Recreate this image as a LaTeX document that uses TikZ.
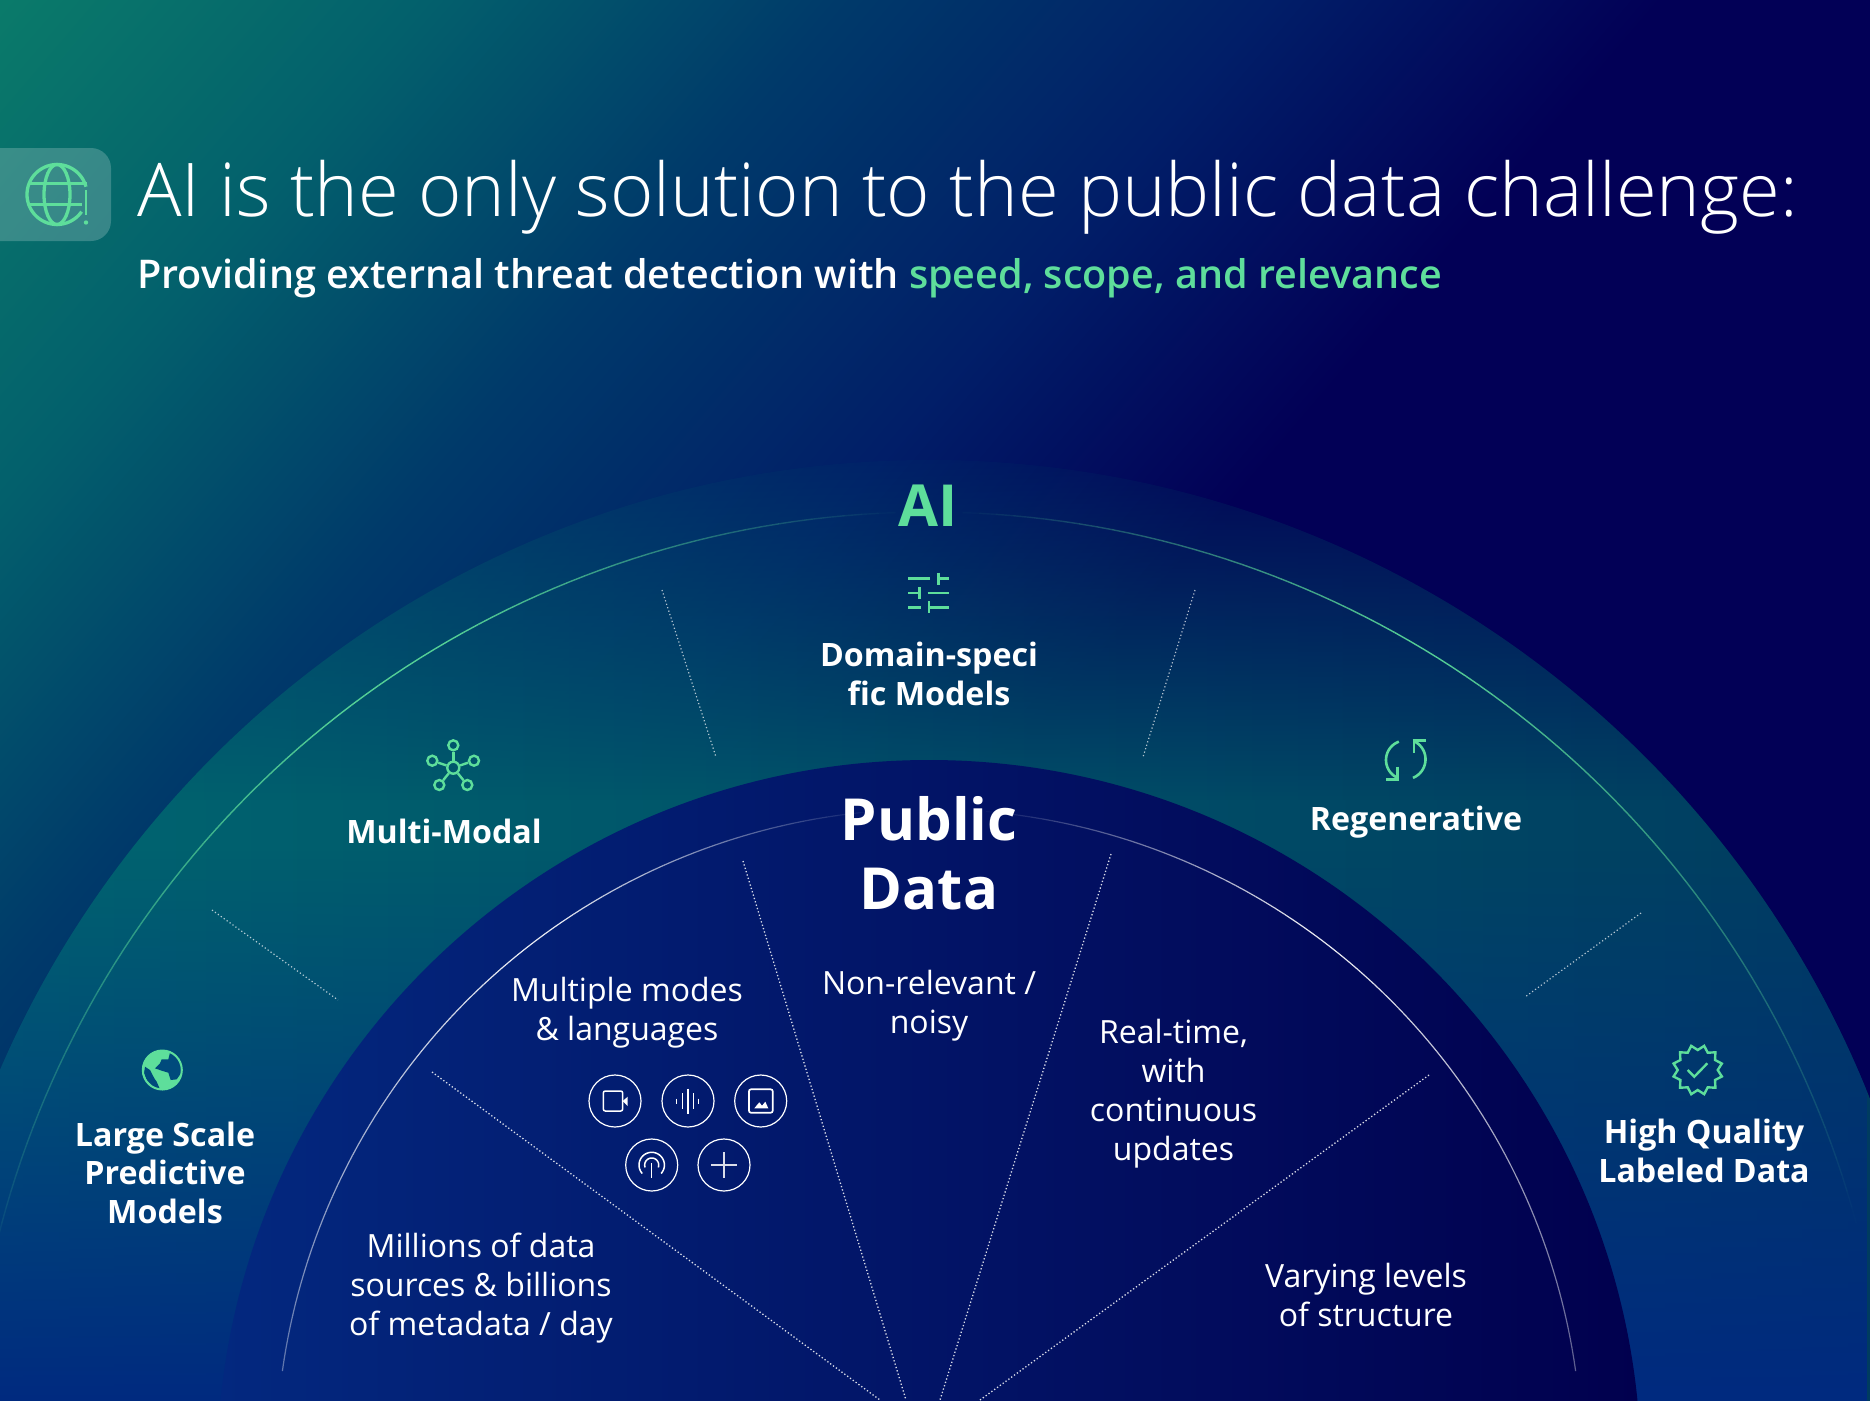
\documentclass[tikz,border=0pt]{standalone}
\usepackage{fontspec}
\setmainfont{Open Sans}
\newfontfamily\lightf{Open Sans Light}
\newfontfamily\semif{Open Sans Semibold}
\usetikzlibrary{shapes.geometric,fadings}
\definecolor{mint}{HTML}{5EDE9B}
\definecolor{bandL}{HTML}{006570}
\definecolor{bandM}{HTML}{005068}
\definecolor{bandR}{HTML}{003C60}
\definecolor{bandBlue}{HTML}{002A80}
\definecolor{innerL}{HTML}{03287F}
\definecolor{innerM}{HTML}{02177A}
\definecolor{innerR}{HTML}{01004E}
\definecolor{landdark}{HTML}{004A7C}
\definecolor{bg0}{HTML}{0A7A6A}
\definecolor{bg1}{HTML}{03606C}
\definecolor{bg2}{HTML}{003A6A}
\definecolor{bg3}{HTML}{011E68}
\definecolor{bg4}{HTML}{020056}
\pgfdeclarehorizontalshading{bgshade}{100bp}{
 color(0bp)=(bg0); color(14.8bp)=(bg0); color(24.5bp)=(bg1); color(34bp)=(bg2);
 color(44bp)=(bg3); color(53bp)=(bg4); color(100bp)=(bg4)}
\tikzfading[name=topfade, top color=transparent!92, bottom color=transparent!0]
\tikzfading[name=blueup, top color=transparent!100, bottom color=transparent!0]
\tikzset{
 lab/.style={anchor=base,align=center,text=white,inner sep=0pt,font=\fontsize{32.2}{38.7}\selectfont\bfseries},
 reg/.style={anchor=base,align=center,text=white,inner sep=0pt,font=\fontsize{32}{38.7}\selectfont},
 icon/.style={mint,line width=2.6pt},
 ring/.style={circle,draw=white,line width=1.2pt,minimum size=52pt,inner sep=0pt},
 thin icon/.style={white,line width=1.5pt},
 spoke/.style={white,line width=1.3pt,dash pattern=on 1.3pt off 2.2pt,opacity=.85},
 ospoke/.style={white,line width=1.2pt,dash pattern=on 1.2pt off 2.4pt,opacity=.7},
 hub/.style={circle,draw=mint,line width=2.4pt,inner sep=0pt},
}
\begin{document}
\begin{tikzpicture}[x=1pt,y=-1pt]
\useasboundingbox (0,0) rectangle (1870,1400);
% background
\path[shading=bgshade,shading angle=-40.5] (0,0) rectangle (1870,1400);
% outer band
\begin{scope}
 \clip (929,1472) circle[radius=1012];
 \shade[left color=bandL,middle color=bandM,right color=bandR,path fading=topfade] (0,460) rectangle (1870,800);
 \shade[left color=bandL,middle color=bandM,right color=bandR] (0,800) rectangle (1870,1403);
 \fill[bandBlue,path fading=blueup] (0,850) rectangle (1870,1403);
\end{scope}
% green arc
\foreach \a in {92,...,167}{
 \pgfmathsetmacro\o{min(.9*(\a-91)/28,.9,.08+.82*(165-\a)/38)}
 \draw[mint,line width=1.4pt,opacity=\o] ({929+960*cos(\a)},{1472-960*sin(\a)}) -- ({929+960*cos(\a+1)},{1472-960*sin(\a+1)});
 \pgfmathsetmacro\p{min(.9*(\a-91)/28,.9,.1+.8*(160-\a)/38)}
 \draw[mint,line width=1.4pt,opacity=\p] ({929+960*cos(180-\a)},{1472-960*sin(180-\a)}) -- ({929+960*cos(179-\a)},{1472-960*sin(179-\a)});
}
% inner disc
\shade[left color=innerL,middle color=innerM,right color=innerR] (929,1472) circle[radius=712];
% inner white arc
\foreach \a in {95,...,171}{
 \pgfmathsetmacro\o{min(.9*(\a-94)/30,.9,.35+.55*(172-\a)/42)}
 \draw[white,line width=1.2pt,opacity=\o] ({929+653*cos(\a)},{1462-653*sin(\a)}) -- ({929+653*cos(\a+1)},{1462-653*sin(\a+1)});
 \draw[white,line width=1.2pt,opacity=\o] ({929+653*cos(180-\a)},{1462-653*sin(180-\a)}) -- ({929+653*cos(179-\a)},{1462-653*sin(179-\a)});
}
% spokes
\coordinate (oa1) at (662,590); \coordinate (oa2) at (716,757);
\coordinate (ob1) at (1195,590); \coordinate (ob2) at (1143,757);
\coordinate (oc1) at (212,910); \coordinate (oc2) at (338,1000);
\coordinate (od1) at (1641,913); \coordinate (od2) at (1525,997);
\draw[ospoke] (oa1)--(oa2); \draw[ospoke] (ob1)--(ob2); \draw[ospoke] (oc1)--(oc2); \draw[ospoke] (od1)--(od2);
\coordinate (ia1) at (743,861); \coordinate (ia2) at (906,1400);
\coordinate (ib1) at (1111,854); \coordinate (ib2) at (940,1400);
\coordinate (ic1) at (432,1072); \coordinate (ic2) at (880,1400);
\coordinate (id1) at (1429,1075); \coordinate (id2) at (980,1400);
\draw[spoke] (ia1)--(ia2); \draw[spoke] (ib1)--(ib2); \draw[spoke] (ic1)--(ic2); \draw[spoke] (id1)--(id2);
% header badge
\fill[white,opacity=.2,rounded corners=20pt] (-30,148) rectangle (111,241);
\draw[icon,line width=3.3pt] plot[domain=15:325,samples=70] ({57+30*cos(\x)},{194.5-30*sin(\x)});
\draw[icon,line width=3.3pt] (57,194.5) ellipse[x radius=13,y radius=30];
\draw[icon,line width=3.3pt] (29,183.5)--(87,183.5);
\draw[icon,line width=3.3pt] (29,204.5)--(82,204.5);
\draw[icon,line width=2.8pt] (86,190)--(86,215);
\fill[mint] (86,222.5) circle[radius=2.2];
% texts
\node[anchor=base west,inner sep=0pt,text=white,font=\lightf\fontsize{74.1}{74}\selectfont] (title) at (137,216) {AI is the only solution to the public data challenge:};
\node[anchor=base west,inner sep=0pt,text=white,font=\semif\fontsize{39.55}{39}\selectfont] (subtitle) at (137,288) {Providing external threat detection with \textcolor{mint}{speed, scope, and relevance}};
\node[anchor=base,inner sep=0pt,text=mint,font=\fontsize{58}{60}\selectfont\bfseries] (ai) at (928,526) {AI};
\node[lab] (dom) at (929,705) {Domain-speci\\fic Models};
\node[lab] (multi) at (444,843) {Multi-Modal};
\node[lab] (regen) at (1416,830) {Regenerative};
\node[lab] (large) at (165,1223.5) {Large Scale\\Predictive\\Models};
\node[lab] (high) at (1704,1182) {High Quality\\Labeled Data};
\node[anchor=base,align=center,inner sep=0pt,text=white,font=\fontsize{58}{69}\selectfont\bfseries] (public) at (929,909) {Public\\Data};
\node[reg] (nonrel) at (929,1033) {Non-relevant /\\noisy};
\node[reg] (modes) at (627,1040) {Multiple modes\\\& languages};
\node[reg] (real) at (1173.5,1160) {Real-time,\\with\\continuous\\updates};
\node[reg] (mill) at (481,1335) {Millions of data\\sources \& billions\\of metadata / day};
\node[reg] (vary) at (1366,1326) {Varying levels\\of structure};
% sliders icon
\draw[icon] (908.3,578.3)--(930,578.3) (938.3,578.3)--(949.3,578.3) (938.3,572.7)--(938.3,584.7);
\draw[icon] (908.3,593)--(919.3,593) (927.7,593)--(949.3,593) (919.3,587.3)--(919.3,599.3);
\draw[icon] (908.3,607.3)--(920.7,607.3) (929,607.3)--(949.3,607.3) (929,601.3)--(929,613.3);
% multimodal icon
\node[hub,minimum size=12pt] (h0) at (453.3,767.7) {};
\node[hub,minimum size=10pt] (h1) at (453.3,745.3) {};
\node[hub,minimum size=10pt] (h2) at (432.3,760.7) {};
\node[hub,minimum size=10pt] (h3) at (474,760.7) {};
\node[hub,minimum size=10pt] (h4) at (439.3,785) {};
\node[hub,minimum size=10pt] (h5) at (467.3,785) {};
\foreach \n in {h1,h2,h3,h4,h5}{\draw[icon,line width=2.4pt] (h0)--(\n);}
% regenerative icon
\draw[icon] plot[domain=110:244,samples=30] ({1405.5+19.5*cos(\x)},{760-19.5*sin(\x)});
\draw[icon] (1397.3,766.7)--(1397.3,779.3) (1386,779.3)--(1398.6,779.3);
\draw[icon] plot[domain=-68:62,samples=30] ({1405.5+20*cos(\x)},{759.3-20*sin(\x)});
\draw[icon] (1414,740.7)--(1414,752.7) (1412.7,740.7)--(1426,740.7);
% earth icon
\fill[mint] (162.3,1070) circle[radius=20];
\begin{scope}[shift={(120,1030)},x=.3333pt,y=-.3333pt]
 \fill[landdark] (150,68)--(158,72)--(175,85)--(183,110)--(183,130)--(170,148)--(152,150)--(145,128)--(125,122)--(105,115)--(120,100)--(125,88)--(145,88)--cycle;
 \fill[landdark] (75,110)--(90,120)--(103,145)--(110,155)--(120,178)--(100,170)--(80,150)--(72,130)--cycle;
\end{scope}
\draw[mint,line width=2pt] (162.3,1070) circle[radius=19.5];
% quality badge
\node[star,star points=12,star point ratio=1.25,minimum size=50pt,inner sep=0pt,shape border rotate=15,draw=mint,line width=2.4pt] (qual) at (1697.7,1070) {};
\draw[icon,line width=2.4pt] (1687.7,1070)--(1694.3,1076.7)--(1707.3,1063.3);
% media rings
\node[ring] (r1) at (615,1101) {};
\node[ring] (r2) at (688,1101) {};
\node[ring] (r3) at (760.7,1101) {};
\node[ring] (r4) at (651.7,1165) {};
\node[ring] (r5) at (724,1165) {};
\draw[thin icon,rounded corners=2pt] (603.3,1091) rectangle (622.7,1111);
\fill[white] (622.7,1101)--(627.7,1096.7)--(627.7,1106)--cycle;
\draw[thin icon] (676.7,1098.5)--(676.7,1103.5) (682.7,1093)--(682.7,1109) (688,1088.5)--(688,1113.5) (693.3,1093)--(693.3,1109) (698.7,1098.5)--(698.7,1103.5);
\draw[thin icon,line width=1.7pt,rounded corners=2pt] (749,1089.3) rectangle (772.7,1112.7);
\fill[white] (754.3,1108.3)--(759.3,1102.3)--(762,1105.7)--(765.3,1101.7)--(768.3,1108.3)--cycle;
\draw[thin icon] plot[domain=-42:222,samples=40] ({651.7+12.7*cos(\x)},{1165-12.7*sin(\x)});
\draw[thin icon] plot[domain=-20:200,samples=30] ({651.7+7*cos(\x)},{1165-7*sin(\x)});
\draw[thin icon] (651.7,1163)--(651.7,1178);
\draw[thin icon,line width=1.8pt,opacity=.85] (711,1165)--(737,1165) (724,1152)--(724,1178);
\end{tikzpicture}
\end{document}
